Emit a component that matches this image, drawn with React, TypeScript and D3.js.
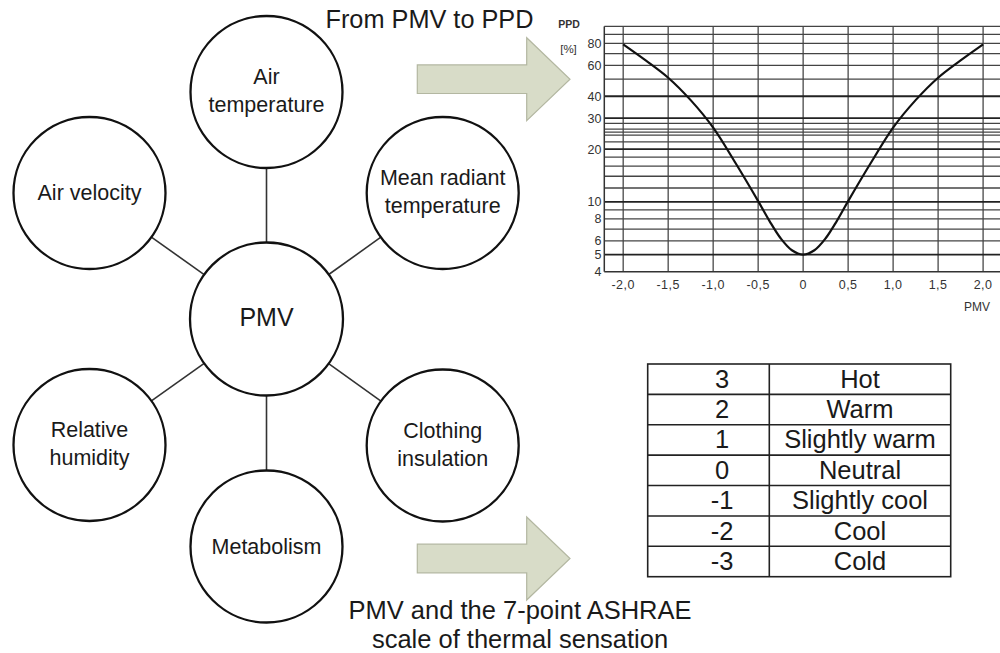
import React from "react";
import * as d3 from "d3";

// ---- Data ----
const pmvSamples = [-2, -1.75, -1.5, -1.25, -1, -0.75, -0.5, -0.375, -0.25, -0.125, 0, 0.125, 0.25, 0.375, 0.5, 0.75, 1, 1.25, 1.5, 1.75, 2];
const ppdSamples = [79, 64, 51, 38, 26.5, 16.6, 10.1, 7.8, 6.2, 5.3, 5, 5.3, 6.2, 7.8, 10.1, 16.6, 26.5, 38, 51, 64, 79];
const pmvTicks = [-2, -1.5, -1, -0.5, 0, 0.5, 1, 1.5, 2];
const ppdTickLabels = [4, 5, 6, 8, 10, 20, 30, 40, 60, 80];
const ppdGridLines = [5, 6, 7, 8, 9, 10, 12, 14, 16, 18, 20, 22, 24, 25, 26, 28, 30, 40, 50, 60, 70, 80, 90, 100];
const ppdStrongLines = [5, 10, 20, 30, 40];

const factorNames = [
  ["Air", "temperature"],
  ["Mean radiant", "temperature"],
  ["Clothing", "insulation"],
  ["Metabolism"],
  ["Relative", "humidity"],
  ["Air velocity"],
];
const centerName = "PMV";

const sensationValues = ["3", "2", "1", "0", "-1", "-2", "-3"];
const sensationLabels = ["Hot", "Warm", "Slightly warm", "Neutral", "Slightly cool", "Cool", "Cold"];

const titleTop = "From PMV to PPD";
const captionLines = ["PMV and the 7-point ASHRAE", "scale of thermal sensation"];

// ---- Layout ----
const FONT = "'Liberation Sans', Arial, Helvetica, sans-serif";
const hub = { x: 266.5, y: 319, r: 76.5 };
const nodeLayout = [
  { x: 266.5, y: 92 },
  { x: 442.7, y: 193 },
  { x: 442.7, y: 445.5 },
  { x: 266.5, y: 546.5 },
  { x: 89.5, y: 445 },
  { x: 89.5, y: 193 },
];
const nodeR = 76;

function arrowPoints(x0: number, yc: number) {
  const bodyHalf = 14.3, headBase = x0 + 109.4, headHalf = 41.5, tip = x0 + 152.7;
  return [
    [x0, yc - bodyHalf], [headBase, yc - bodyHalf], [headBase, yc - headHalf], [tip, yc],
    [headBase, yc + headHalf], [headBase, yc + bodyHalf], [x0, yc + bodyHalf],
  ];
}

export default function App() {
  const x = d3.scaleLinear().domain([-2.21, 2.21]).range([604.3, 1002]);
  const y = d3.scaleLog().domain([4, 100]).range([271.7, 26.4]);
  const line = d3
    .line<number>()
    .x((_, i) => x(pmvSamples[i]))
    .y((d) => y(d))
    .curve(d3.curveCatmullRom.alpha(0.5));
  const fmt = (v: number) => (v === 0 ? "0" : d3.format(".1f")(v).replace(".", ",").replace("\u2212", "-"));

  const rows = d3.scaleBand<number>().domain(d3.range(sensationValues.length)).range([364, 576.7]);
  const tblL = 647.7, tblM = 769.3, tblR = 950.7;

  const poly = (pts: number[][]) => pts.map((p) => p.join(",")).join(" ");

  return (
    <svg
      width={1000}
      height={653}
      style={{ position: "absolute", left: 0, top: 0, background: "#fff" }}
      fontFamily={FONT}
    >
      <rect width={1000} height={653} fill="#fff" />

      {nodeLayout.map((n, i) => {
        const dx = n.x - hub.x, dy = n.y - hub.y;
        const dist = Math.hypot(dx, dy);
        const ux = dx / dist, uy = dy / dist;
        return (
          <line
            key={"c" + i}
            x1={hub.x + ux * hub.r}
            y1={hub.y + uy * hub.r}
            x2={n.x - ux * nodeR}
            y2={n.y - uy * nodeR}
            stroke="#333"
            strokeWidth={1.6}
          />
        );
      })}

      {nodeLayout.map((n, i) => {
        const lines = factorNames[i];
        const offs = lines.length === 2 ? [-8, 20] : [7];
        return (
          <g key={"n" + i}>
            <circle cx={n.x} cy={n.y} r={nodeR} fill="#fff" stroke="#111" strokeWidth={2.3} />
            {lines.map((t, j) => (
              <text key={j} x={n.x} y={n.y + offs[j]} textAnchor="middle" fontSize={21.5} fill="#1a1a1a">
                {t}
              </text>
            ))}
          </g>
        );
      })}
      <circle cx={hub.x} cy={hub.y} r={hub.r} fill="#fff" stroke="#111" strokeWidth={2.3} />
      <text x={hub.x} y={hub.y + 6.5} textAnchor="middle" fontSize={25} fill="#1a1a1a">
        {centerName}
      </text>

      <polygon points={poly(arrowPoints(417.3, 79.2))} fill="#d8dcc8" stroke="#b3b7a1" strokeWidth={1.2} />
      <polygon points={poly(arrowPoints(417.3, 558.5))} fill="#d8dcc8" stroke="#b3b7a1" strokeWidth={1.2} />

      <text x={429.5} y={28.3} textAnchor="middle" fontSize={25.3} fill="#1a1a1a">
        {titleTop}
      </text>
      {captionLines.map((t, i) => (
        <text key={i} x={520} y={619.3 + i * 29} textAnchor="middle" fontSize={25.5} fill="#1a1a1a">
          {t}
        </text>
      ))}

      <g>
        {pmvTicks.map((v) => (
          <line key={"vx" + v} x1={x(v)} x2={x(v)} y1={y(100)} y2={y(4)} stroke="#555" strokeWidth={1.4} />
        ))}
        {ppdGridLines.map((v) => (
          <line
            key={"hy" + v}
            x1={x(-2.21)}
            x2={1000}
            y1={y(v)}
            y2={y(v)}
            stroke={ppdStrongLines.includes(v) ? "#222" : "#444"}
            strokeWidth={ppdStrongLines.includes(v) ? 1.8 : 1.3}
          />
        ))}
        <line x1={x(-2.21)} x2={x(-2.21)} y1={y(100)} y2={y(4)} stroke="#333" strokeWidth={1.5} />
        <line x1={x(-2.21)} x2={1000} y1={y(4)} y2={y(4)} stroke="#333" strokeWidth={1.5} />
        <path d={line(ppdSamples) || ""} fill="none" stroke="#111" strokeWidth={2.2} />
        {ppdTickLabels.map((v) => (
          <text key={"yl" + v} x={601.5} y={y(v) + 4.5} textAnchor="end" fontSize={12.5} fill="#333">
            {v}
          </text>
        ))}
        {pmvTicks.map((v) => (
          <text key={"xl" + v} x={x(v)} y={288.5} textAnchor="middle" fontSize={12.5} fill="#333" letterSpacing={0.5}>
            {fmt(v)}
          </text>
        ))}
        <text x={977} y={310.5} textAnchor="middle" fontSize={12} fill="#333">PMV</text>
        <text x={569} y={27.5} textAnchor="middle" fontSize={10.5} fill="#333" fontWeight="bold">PPD</text>
        <text x={568.5} y={52.5} textAnchor="middle" fontSize={11.5} fill="#333">[%]</text>
      </g>

      <g>
        <rect x={tblL} y={rows(0)!} width={tblR - tblL} height={rows.step() * 7} fill="#fff" stroke="#222" strokeWidth={1.6} />
        <line x1={tblM} x2={tblM} y1={rows(0)!} y2={rows(6)! + rows.step()} stroke="#222" strokeWidth={1.6} />
        {sensationValues.map((v, i) => (
          <g key={"r" + i}>
            {i > 0 && <line x1={tblL} x2={tblR} y1={rows(i)!} y2={rows(i)!} stroke="#222" strokeWidth={1.6} />}
            <text x={722} y={rows(i)! + rows.step() / 2 + 8.5} textAnchor="middle" fontSize={25.5} fill="#1a1a1a">
              {v}
            </text>
            <text x={(tblM + tblR) / 2} y={rows(i)! + rows.step() / 2 + 8.5} textAnchor="middle" fontSize={25.5} fill="#1a1a1a">
              {sensationLabels[i]}
            </text>
          </g>
        ))}
      </g>
    </svg>
  );
}
